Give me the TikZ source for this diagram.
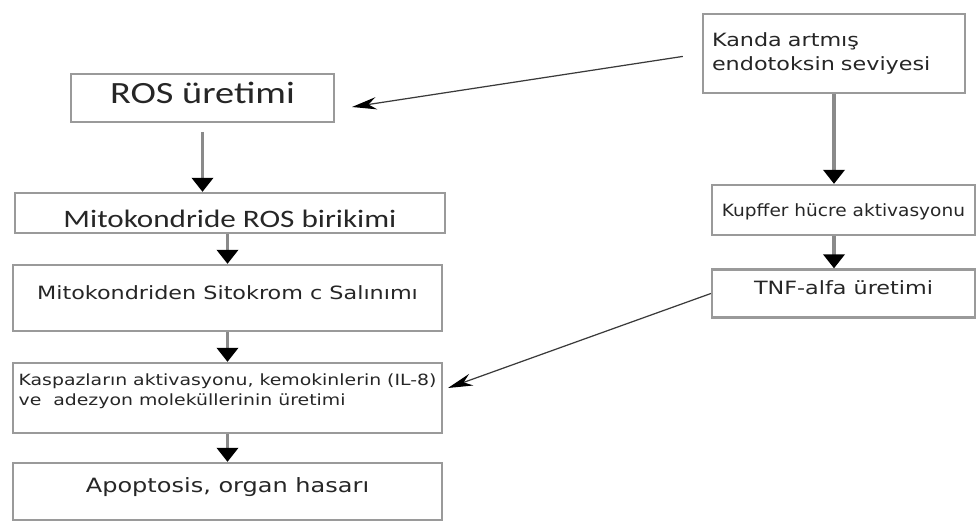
\documentclass[tikz,border=0pt]{standalone}
\usepackage{fontspec}
\setmainfont{DejaVu Sans}[FakeStretch=1.22]
\newfontfamily\calfont{Carlito}[FakeStretch=1.24]
\newfontfamily\narrowfont{DejaVu Sans}[FakeStretch=1.1]
\usetikzlibrary{arrows.meta,positioning}
\definecolor{boxgray}{HTML}{9A9A9A}
\definecolor{shaftgray}{HTML}{8A8A8A}
\definecolor{lineink}{HTML}{3A3A3A}
\definecolor{textink}{HTML}{262626}

\tikzset{
  flowbox/.style={draw=boxgray,line width=1.3pt,inner sep=0pt,text=textink},
  flowdown/.style={draw=shaftgray,line width=2.2pt,
    -{Triangle[black,length=8pt,width=12pt]}},
  feedline/.style={draw=lineink,line width=.7pt,
    -{Stealth[black,length=14pt,width=7pt]}}
}

\begin{document}
\begin{tikzpicture}[x=0.02cm,y=-0.02cm]
  \useasboundingbox (0,0) rectangle (977,523);

  % left column
  \node[flowbox,minimum width=5.26cm,minimum height=.96cm,
    font=\calfont\fontsize{17.6}{20}\selectfont,text height=5.7pt,text depth=0pt]
    (ros) at (202.5,98) {ROS üretimi};
  \node[flowbox,minimum width=8.6cm,minimum height=.8cm,
    font=\calfont\fontsize{14.3}{16}\selectfont,text height=16.2pt,text depth=0pt]
    (mito) at (230,213) {Mitokondride ROS birikimi};
  \node[flowbox,minimum width=8.58cm,minimum height=1.32cm,
    font=\fontsize{10.4}{12}\selectfont,text height=2pt,text depth=0pt]
    (sito) at (227.5,298) {Mitokondriden Sitokrom c Salınımı};
  \node[flowbox,minimum width=8.58cm,minimum height=1.4cm,align=left,
    font=\fontsize{8.8}{11.5}\selectfont,text depth=9.8pt]
    (kasp) at (227.5,398) {Kaspazların aktivasyonu, kemokinlerin (IL-8)\\ve\ \ adezyon moleküllerinin üretimi};
  \node[flowbox,minimum width=8.58cm,minimum height=1.14cm,
    font=\fontsize{11.2}{13}\selectfont,text height=1.5pt,text depth=0pt]
    (apop) at (227.5,491.5) {Apoptosis, organ hasarı};

  % right column
  \node[flowbox,minimum height=1.58cm,inner xsep=.18cm,text width=4.88cm,
    align=left,font=\fontsize{10.4}{14}\selectfont]
    (kanda) at (834,53.5) {Kanda artmış\\endotoksin seviyesi};
  \node[flowbox,minimum width=5.26cm,minimum height=1cm,
    font=\narrowfont\fontsize{9.6}{12}\selectfont,text height=7pt,text depth=0pt]
    (kupf) at (843.5,210) {Kupffer hücre aktivasyonu};
  \node[flowbox,minimum width=5.26cm,minimum height=.96cm,
    font=\fontsize{10.4}{12}\selectfont,text height=1pt,text depth=0pt]
    (tnf) at (843.5,293.5) {TNF-alfa üretimi};

  \coordinate (rosin) at (352,107);
  \coordinate (kaspin) at (448,388);

  \draw[flowdown,shorten <=5pt] (ros.south) -- (ros.south |- mito.north);
  \draw[flowdown] (sito.north |- mito.south) -- (sito.north);
  \draw[flowdown] (sito.south) -- (sito.south |- kasp.north);
  \draw[flowdown] (kasp.south) -- (kasp.south |- apop.north);
  \draw[flowdown] (kanda.south) -- (kanda.south |- kupf.north);
  \draw[flowdown] (kanda.south |- kupf.south) -- (kanda.south |- tnf.north);

  \draw[feedline,shorten <=11pt] (kanda.west) -- (rosin);
  \draw[feedline] (tnf.west) -- (kaspin);
\end{tikzpicture}
\end{document}
